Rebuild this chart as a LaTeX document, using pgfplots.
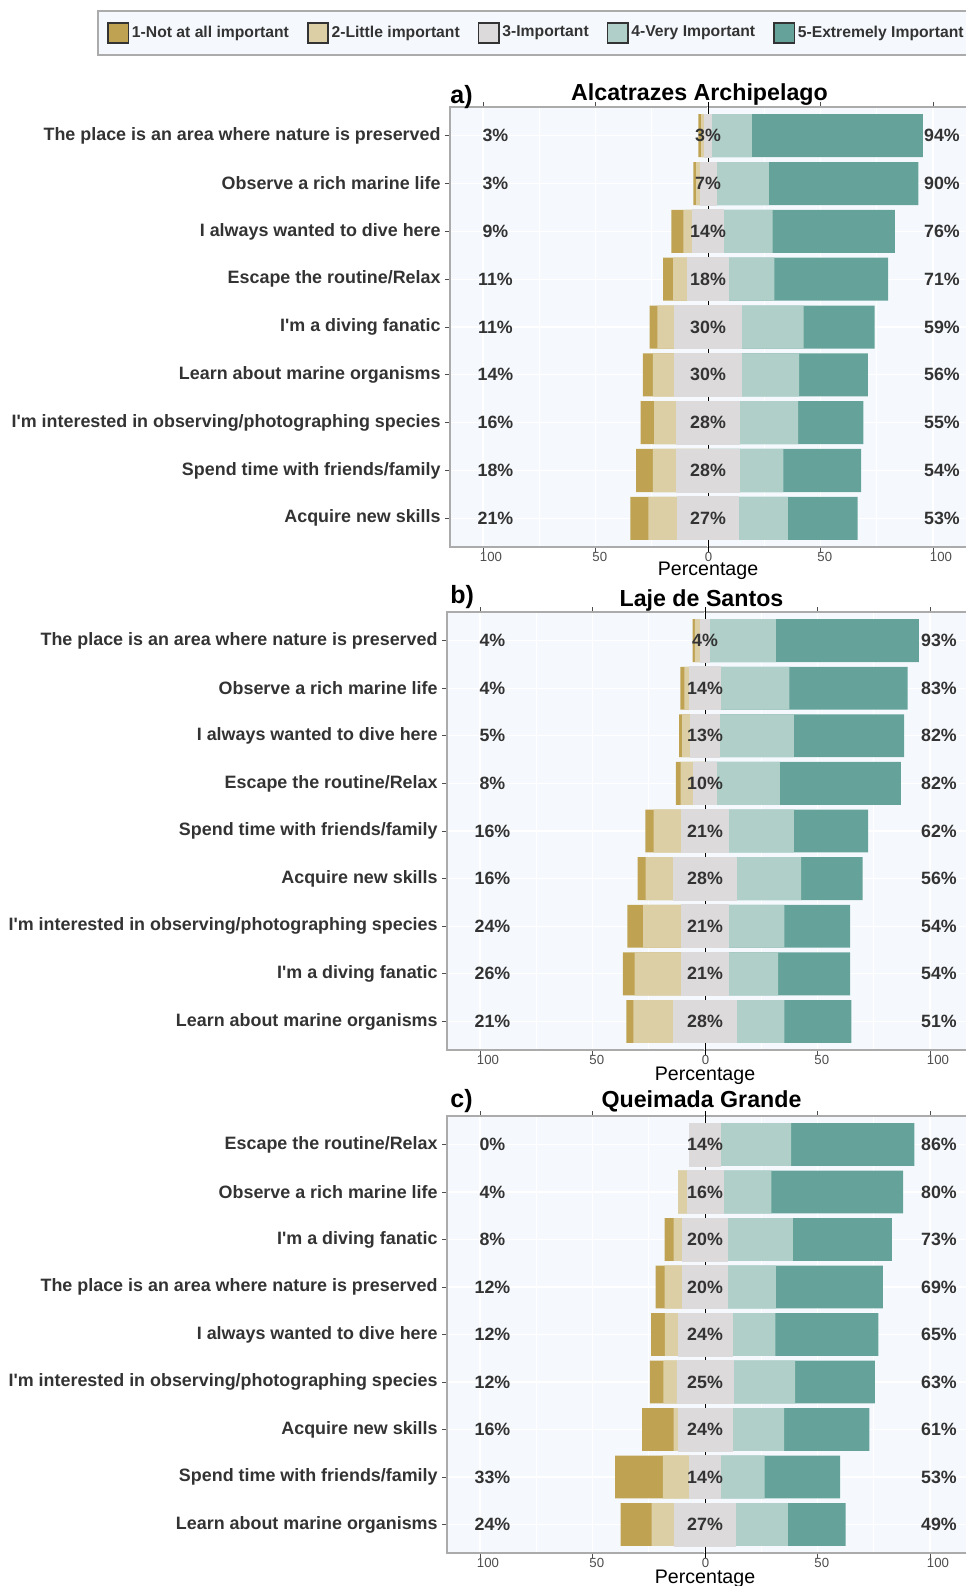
\documentclass[border=0pt]{standalone}
\usepackage{fontspec}
\setmainfont{Liberation Sans}
\usepackage{pgfplots}
\usepackage{pgfplotstable}
\pgfplotsset{compat=1.18}

\definecolor{c1}{HTML}{BFA352}
\definecolor{c2}{HTML}{DDCFA5}
\definecolor{c3}{HTML}{DCDADA}
\definecolor{c4}{HTML}{AFCFC8}
\definecolor{c5}{HTML}{65A39A}
\definecolor{bgc}{HTML}{F5F9FD}
\definecolor{framec}{HTML}{ABABAB}
\definecolor{txt}{HTML}{333333}
\definecolor{tickc}{HTML}{4D4D4D}

% L1..L5 = share of each answer, lo/ne/hi = printed percentages
\pgfplotstableread{
row L1  L2  N  L4   L5   lo ne hi
1   1.2 1.6 3  18   76   3  3  94
2   1.2 1.8 7  23.5 66.5 3  7  90
3   5.3 4   14 21.7 54.3 9  14 76
4   4.5 6.5 18 20.5 50.5 11 18 71
5   3.5 7.5 30 27.5 31.5 11 30 59
6   4.5 9.5 30 25.5 30.5 14 30 56
7   6   10  28 26   29   16 28 55
8   7.5 10.5 28 19.5 34.5 18 28 54
9   8   13  27 22   31   21 27 53
}\alca

\pgfplotstableread{
row L1  L2   N  L4   L5   lo ne hi
1   1   2.5  4  29.5 63.5 4  4  93
2   1.8 2.2  14 30.5 52.5 4  14 83
3   1.3 3.7  13 33   49   5  13 82
4   2.2 5.8  10 28.3 53.7 8  10 82
5   3.6 12.4 21 29   33   16 21 62
6   3.6 12.4 28 28.7 27.3 16 28 56
7   7   17   21 24.8 29.2 24 21 54
8   5.2 20.8 21 22   32   26 21 54
9   3.2 17.8 28 21.3 29.7 21 28 51
}\laje

\pgfplotstableread{
row L1   L2   N  L4   L5   lo ne hi
1   0    0    14 31.3 54.7 0  14 86
2   0    4    16 21.5 58.5 4  16 80
3   4    4    20 29   44   8  20 73
4   4    8    20 21.5 47.5 12 20 69
5   6.2  5.8  24 19.3 45.7 12 24 65
6   6    6    25 27.5 35.5 12 25 63
7   14   2    24 23.2 37.8 16 24 61
8   21.3 11.7 14 19.5 33.5 33 14 53
9   13.8 10.2 27 23.3 25.7 24 27 49
}\queimada

\newcommand\catfont{\fontsize{8.95pt}{10pt}\selectfont\bfseries}
\newcommand\pctfont{\fontsize{8.9pt}{10pt}\selectfont\bfseries}
\newcommand\tickfont{\fontsize{6.6pt}{8pt}\selectfont}
\newcommand\labfont{\fontsize{9.8pt}{11pt}\selectfont}
\newcommand\titfont{\fontsize{11.6pt}{13pt}\selectfont\bfseries}
\newcommand\tagfont{\fontsize{12.5pt}{14pt}\selectfont\bfseries}
\newcommand\legfont{\fontsize{7.85pt}{9pt}\selectfont\bfseries}
\newcommand\iam{I\textquotesingle m}

\pgfplotsset{
  lk/.style={
    scale only axis, width=264pt,
    xmin=-114.7, xmax=120,
    ymin=0.4, ymax=9.6, y dir=reverse,
    axis background/.style={fill=bgc},
    axis line style={draw=framec, line width=0.8pt},
    tick align=outside, major tick length=2.5pt, minor tick length=0pt,
    tick style={color=tickc, line width=0.4pt},
    xtick={-100,-50,50,100}, xticklabels={100,50,50,100},
    minor xtick={-75,-25,25,75},
    extra x ticks={0}, extra x tick labels={0},
    extra x tick style={tick style={color=black}},
    xmajorgrids, xminorgrids, ymajorgrids,
    major grid style={white, line width=0.6pt},
    minor grid style={white, line width=0.4pt},
    ytick={1,...,9},
    xticklabel style={font=\tickfont, text=tickc, anchor=north west, inner sep=0pt, xshift=-1.75pt, yshift=0pt},
    yticklabel style={font=\catfont, text=txt, anchor=east, inner sep=0pt, xshift=-2pt},
    xlabel={Percentage},
    every axis x label/.style={at={(axis cs:0,9.6)}, anchor=base, font=\labfont},
    /pgf/number format/assume math mode=true,
  },
  seg/.style={xbar, bar shift=0pt, bar width=0.9, draw=none, fill=#1},
  pct/.style={draw=none, mark=none, point meta=explicit,
    nodes near coords={\pgfmathprintnumber{\pgfplotspointmeta}\%},
    every node near coord/.append style={anchor=center, font=\pctfont, text=txt, inner sep=0pt}},
}

\newcommand\likert[1]{%
  % zero line first, so that the bars cover it
  \addplot[black, line width=0.5pt] coordinates {(0,0.4) (0,9.6)};
  \addplot[seg=c5] table[y=row, x expr=\thisrow{N}/2+\thisrow{L4}+\thisrow{L5}]{#1};
  \addplot[seg=c4] table[y=row, x expr=\thisrow{N}/2+\thisrow{L4}]{#1};
  \addplot[seg=c3, draw=c3, line width=0.4pt] table[y=row, x expr=\thisrow{N}/2]{#1};
  \addplot[seg=c1] table[y=row, x expr=-\thisrow{N}/2-\thisrow{L2}-\thisrow{L1}]{#1};
  \addplot[seg=c2] table[y=row, x expr=-\thisrow{N}/2-\thisrow{L2}]{#1};
  \addplot[seg=c3, draw=c3, line width=0.4pt] table[y=row, x expr=-\thisrow{N}/2]{#1};
  \addplot[pct] table[y=row, x expr=-94.5, meta=lo]{#1};
  \addplot[pct] table[y=row, x expr=0, meta=ne]{#1};
  \addplot[pct] table[y=row, x expr=104, meta=hi]{#1};
}

\begin{document}
\begin{tikzpicture}

\begin{axis}[lk, at={(225pt,-273.5pt)}, anchor=south west, height=220pt,
  every axis x label/.append style={yshift=-14.2pt},
  yticklabels={The place is an area where nature is preserved, Observe a rich marine life, I always wanted to dive here, Escape the routine/Relax, \iam{} a diving fanatic, Learn about marine organisms, \iam{} interested in observing/photographing species, Spend time with friends/family, Acquire new skills},
  legend columns=5,
  legend cell align=left,
  legend image code/.code={\draw[#1, draw=txt, line width=0.8pt] (0pt,-5.1pt) rectangle (10.2pt,5.1pt);},
  legend style={at={(axis description cs:-0.6686,1.2205)}, anchor=north west,
    draw=framec, line width=0.8pt, fill=bgc, font=\legfont, text=txt,
    inner xsep=4.8pt, inner ysep=5.6pt, nodes={inner sep=0pt},
    /tikz/every odd column/.append style={column sep=1.3pt},
    /tikz/every even column/.append style={column sep=9pt}},
]
\addlegendimage{fill=c1}\addlegendentry{1-Not at all important}
\addlegendimage{fill=c2}\addlegendentry{2-Little important}
\addlegendimage{fill=c3}\addlegendentry{3-Important}
\addlegendimage{fill=c4}\addlegendentry{4-Very Important}
\addlegendimage{fill=c5}\addlegendentry{5-Extremely Important\hspace*{8pt}}
\likert{\alca}
\end{axis}

\begin{axis}[lk, at={(223.5pt,-525pt)}, anchor=south west, height=219pt,
  every axis x label/.append style={yshift=-15.2pt},
  yticklabels={The place is an area where nature is preserved, Observe a rich marine life, I always wanted to dive here, Escape the routine/Relax, Spend time with friends/family, Acquire new skills, \iam{} interested in observing/photographing species, \iam{} a diving fanatic, Learn about marine organisms},
]
\likert{\laje}
\end{axis}

\begin{axis}[lk, at={(223.5pt,-776.5pt)}, anchor=south west, height=218.5pt,
  every axis x label/.append style={yshift=-15pt},
  yticklabels={Escape the routine/Relax, Observe a rich marine life, \iam{} a diving fanatic, The place is an area where nature is preserved, I always wanted to dive here, \iam{} interested in observing/photographing species, Acquire new skills, Spend time with friends/family, Learn about marine organisms},
]
\likert{\queimada}
\end{axis}

\node[font=\tagfont, anchor=base west, inner sep=0pt] at (225pt,-51.5pt) {a)};
\node[font=\titfont, anchor=base, inner sep=0pt] at (349.75pt,-50pt) {Alcatrazes Archipelago};
\node[font=\tagfont, anchor=base west, inner sep=0pt] at (225pt,-301.5pt) {b)};
\node[font=\titfont, anchor=base, inner sep=0pt] at (350.75pt,-303pt) {Laje de Santos};
\node[font=\tagfont, anchor=base west, inner sep=0pt] at (225pt,-553.5pt) {c)};
\node[font=\titfont, anchor=base, inner sep=0pt] at (350.75pt,-553.5pt) {Queimada Grande};

\pgfresetboundingbox
\path[use as bounding box] (0pt,0pt) rectangle (482.5pt,-793pt);
\end{tikzpicture}
\end{document}
